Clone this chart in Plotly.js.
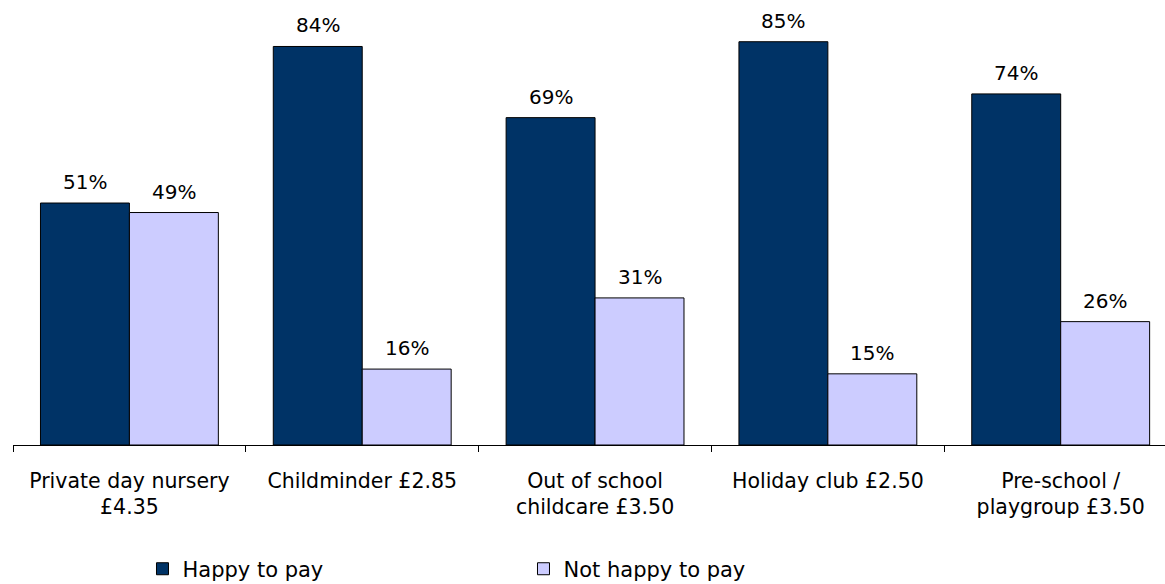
<!DOCTYPE html>
<html>
<head>
<meta charset="utf-8">
<script src="https://cdn.plot.ly/plotly-3.0.1.min.js"></script>
<style>html,body{margin:0;padding:0;overflow:hidden;background:#fff}</style>
</head>
<body>
<div id="chart" style="width:1165px;height:584px"></div>
<script>
const categories = ["Private day nursery<br>£4.35", "Childminder £2.85", "Out of school<br>childcare £3.50", "Holiday club £2.50", "Pre-school /<br>playgroup £3.50"];
const happyToPay = [51, 84, 69, 85, 74];
const notHappyToPay = [49, 16, 31, 15, 26];
const seriesNames = ["Happy to pay", "Not happy to pay"];

const FONT = "DejaVu Sans, sans-serif";
const traces = [
  {type: "bar", name: seriesNames[0], x: categories, y: happyToPay,
   marker: {color: "#003366", line: {color: "#000", width: 1}}, hoverinfo: "skip"},
  {type: "bar", name: seriesNames[1], x: categories, y: notHappyToPay,
   marker: {color: "#CCCCFF", line: {color: "#000", width: 1}}, hoverinfo: "skip"}
];

const annotations = [];
[happyToPay, notHappyToPay].forEach((vals, s) => {
  vals.forEach((v, i) => {
    annotations.push({
      x: i, y: v, xref: "x", yref: "y", text: v + "%", showarrow: false,
      xshift: s === 0 ? -44.5 : 44.5, yanchor: "bottom", yshift: 7,
      font: {family: FONT, size: 20, color: "#000"}
    });
  });
});

const layout = {
  width: 1165, height: 584,
  margin: {l: 12.7, r: 0, t: 17.5, b: 139, autoexpand: false},
  paper_bgcolor: "#fff", plot_bgcolor: "#fff",
  barmode: "group", bargap: 0.236, bargroupgap: 0,
  showlegend: true,
  legend: {orientation: "h", x: 0.1124, y: -0.2906, xanchor: "left", yanchor: "middle",
           font: {family: FONT, size: 21, color: "#000"}, entrywidth: 336, entrywidthmode: "pixels",
           bgcolor: "rgba(0,0,0,0)"},
  xaxis: {type: "category", range: [-0.5, 4.448], showline: true, linecolor: "#000", linewidth: 1,
          automargin: false,
          ticks: "outside", tickson: "boundaries", ticklen: 6, tickcolor: "#000",
          ticklabelstandoff: 17,
          tickfont: {family: FONT, size: 20.5, color: "#000"}, showgrid: false, zeroline: false,
          fixedrange: true},
  yaxis: {range: [0, 90], visible: false, showgrid: false, zeroline: false, fixedrange: true},
  annotations: annotations
};

Plotly.newPlot("chart", traces, layout, {displayModeBar: false, staticPlot: true});
</script>
</body>
</html>
